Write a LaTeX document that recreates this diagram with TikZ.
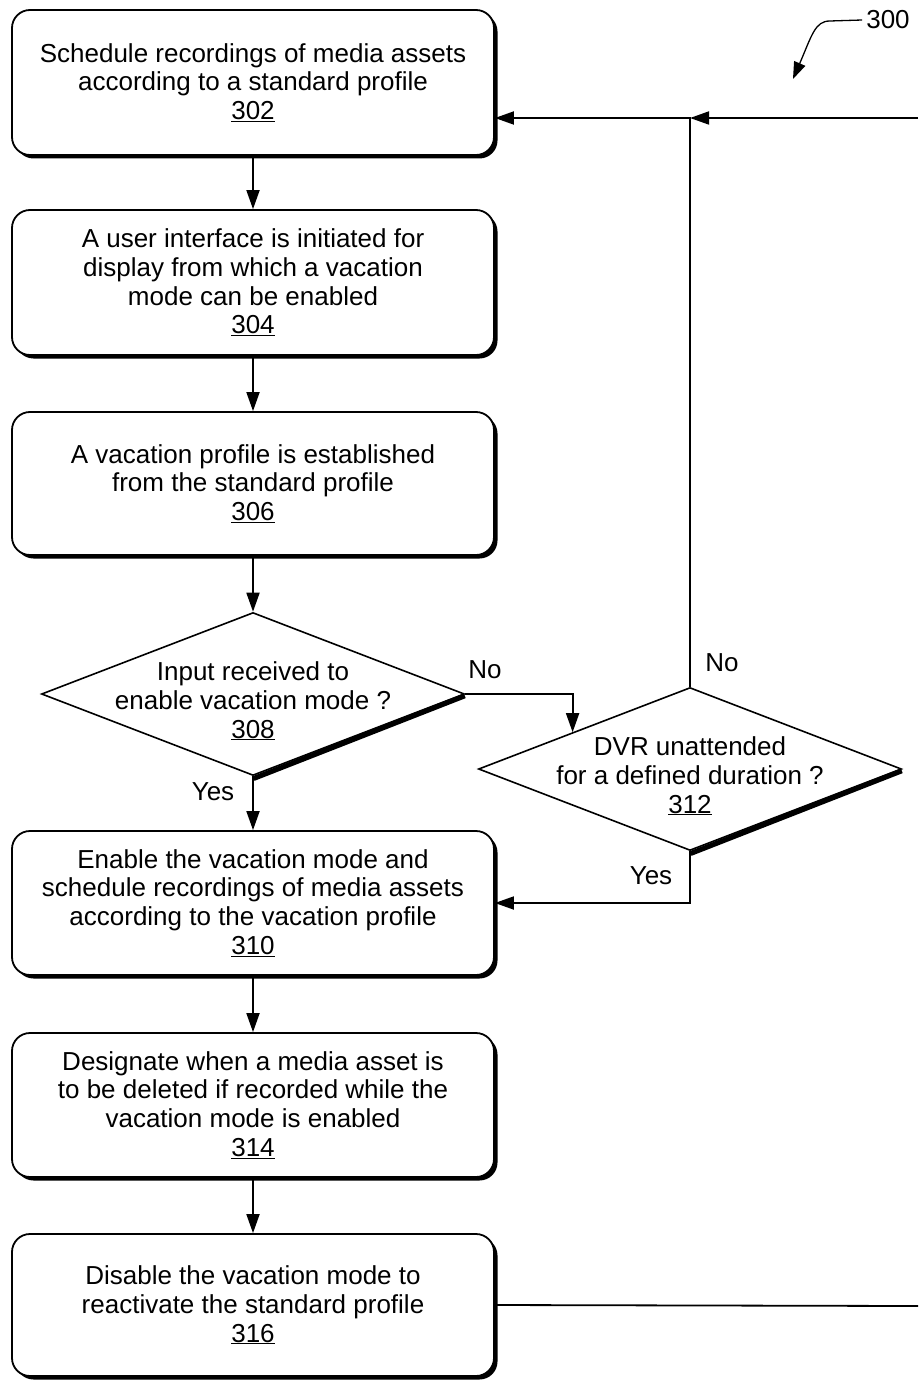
\documentclass[tikz,border=0pt]{standalone}
\usepackage{fontspec}
\setmainfont{Liberation Sans}
\usetikzlibrary{arrows.meta,shapes.geometric,shadows,calc}
\begin{document}
\begin{tikzpicture}[x=1pt,y=-1pt,
  txt/.style={font=\fontsize{26}{28.7}\selectfont, align=center, inner sep=0pt},
  stepbox/.style={draw, line width=1.8pt, rounded corners=18pt, minimum width=482pt,
    minimum height=145pt, fill=white,
    drop shadow={shadow xshift=3.5pt, shadow yshift=-3.5pt, fill=black, opacity=1}, txt},
  decision/.style={diamond, draw, line width=1.6pt, fill=white, minimum width=423pt,
    minimum height=163pt, inner sep=0pt},
  dshadow/.style={line width=5pt, line cap=butt},
  arr/.style={line width=1.8pt, -{Triangle[length=19pt,width=13pt]}},
  conn/.style={line width=1.8pt}]
\useasboundingbox (0,0) rectangle (918,1380);

% boxes
\node[stepbox] (b302) at (253,82.5) {Schedule recordings of media assets\\according to a standard profile\\\underline{302}};
\node[stepbox] (b304) at (253,282.5) {A user interface is initiated for\\display from which a vacation\\mode can be enabled\\\underline{304}};
\node[stepbox, minimum height=143pt] (b306) at (253,483.5) {A vacation profile is established\\from the standard profile\\\underline{306}};
\node[stepbox, minimum height=144pt] (b310) at (253,903) {Enable the vacation mode and\\schedule recordings of media assets\\according to the vacation profile\\\underline{310}};
\node[stepbox, minimum height=144pt] (b314) at (253,1105) {Designate when a media asset is\\to be deleted if recorded while the\\vacation mode is enabled\\\underline{314}};
\node[stepbox, minimum height=142pt] (b316) at (253,1305) {Disable the vacation mode to\\reactivate the standard profile\\\underline{316}};

% decisions
\node[decision] (d308) at (253,694) {};
\draw[dshadow] ($(d308.east)+(-0.5,1.8)$) -- ($(d308.south)+(0.6,2.2)$);
\node[txt] (t308) at ($(d308.center)+(0,7)$) {Input received to\\enable vacation mode ?\\\underline{308}};

\node[decision] (d312) at (690,769) {};
\draw[dshadow] ($(d312.east)+(-0.5,1.8)$) -- ($(d312.south)+(0.6,2.2)$);
\node[txt] (t312) at ($(d312.center)+(0,7)$) {DVR unattended\\for a defined duration ?\\\underline{312}};

% coordinates
\coordinate (j) at (690,118);
\coordinate (r1) at (918,118);
\coordinate (in302) at (b302.east |- j);
\coordinate (e312) at ($(d312.west)!0.447!(d312.north)$);
\coordinate (r2) at (918,1306);

% connectors
\draw[arr] (b302) -- (b304);
\draw[arr] (b304) -- (b306);
\draw[arr] (b306.south) -- (d308.north);
\draw[arr] (d308.south) -- (b310.north);
\draw[arr] (d308.east) -| (e312);
\draw[arr] (d312.north) |- (in302);
\draw[arr] (r1) -- (j);
\draw[arr] (d312.south) |- (b310.east);
\draw[arr] (b310) -- (b314);
\draw[arr] (b314) -- (b316);
\draw[conn] (b316.east) -- (r2);

% labels
\node[txt] (lno1) at (485,670) {No};
\node[txt] (lno2) at (722,663) {No};
\node[txt] (lyes1) at (213,792) {Yes};
\node[txt] (lyes2) at (651,876) {Yes};

% reference numeral
\node[txt] (n300) at (888,20) {300};
\coordinate (tip300) at (793,79);
\draw[line width=1.3pt, -{Triangle[length=17pt,width=12pt]}] ($(n300.west)+(-4,0)$) -- (830,21) .. controls (815,21) and (812,35) .. (tip300);
\end{tikzpicture}
\end{document}
